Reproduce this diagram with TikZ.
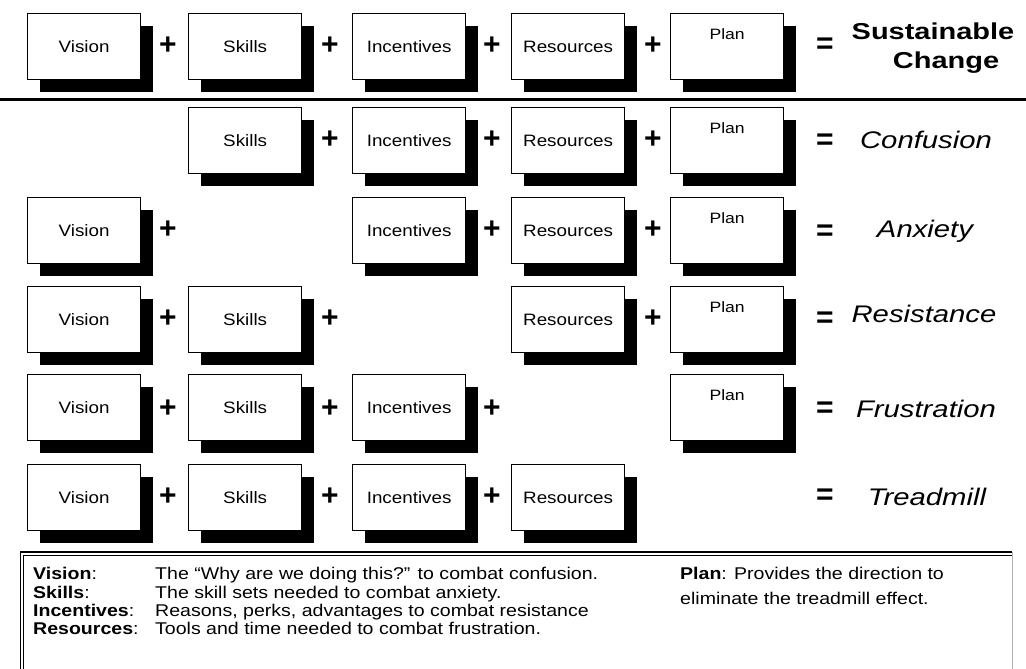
\documentclass[tikz,border=0pt]{standalone}
\usepackage{fontspec}
\usepackage{graphicx}
\setmainfont{Liberation Sans}
\usetikzlibrary{shadows}
\newcommand\hsc[2]{\scalebox{#1}[1]{#2}}
\newcommand\bxl[1]{\hsc{1.14}{#1}}
\newcommand\pln[1]{\hsc{1.17}{#1}}
\newcommand\rsl[1]{\hsc{1.22}{#1}}
\newcommand\lgd[1]{\hsc{1.15}{#1}}
\tikzset{
  box/.style={draw, line width=1.3pt, fill=white, minimum width=113pt, minimum height=66pt,
    anchor=north west, inner sep=0pt, font=\fontsize{16.5}{18}\selectfont,
    drop shadow={shadow xshift=12.5pt, shadow yshift=-12pt, fill=black, opacity=1}},
  planbox/.style={box, font=\fontsize{15}{17}\selectfont, text height=11pt, text depth=26pt},
  op/.style={inner sep=0pt, font=\fontsize{30}{30}\selectfont\bfseries},
  eq/.style={inner sep=0pt, font=\fontsize{30}{30}\selectfont\bfseries},
  result/.style={inner sep=0pt, font=\fontsize{24}{26}\selectfont\itshape},
  sust/.style={inner sep=0pt, font=\fontsize{23}{25}\selectfont\bfseries},
  legend/.style={inner sep=0pt, anchor=base west, font=\fontsize{17}{19}\selectfont},
}
\begin{document}
\begin{tikzpicture}[x=1pt,y=-1pt]
\clip (0,0) rectangle (1026,669);
\fill[white] (0,0) rectangle (1026,669);

% Row 1
\node[box] (v1) at (27,13) {\bxl{Vision}};
\node[box] (s1) at (188,13) {\bxl{Skills}};
\node[box] (i1) at (352,13) {\bxl{Incentives}};
\node[box] (r1) at (511,13) {\bxl{Resources}};
\node[planbox] (pl1) at (670,13) {\pln{Plan}};
\node[op] (a11) at (168,46) {+};
\node[op] (a12) at (330,46) {+};
\node[op] (a13) at (492,46) {+};
\node[op] (a14) at (653,46) {+};
\node[eq] (e1) at (825,46) {=};
\node[sust] (t1a) at (933,31) {\hsc{1.26}{Sustainable}};
\node[sust] (t1b) at (946,63) {\hsc{1.26}{Change}};

% Rule
\coordinate (ruleL) at (0,99.5);
\coordinate (ruleR) at (1026,99.5);
\draw[line width=3.5pt] (ruleL) -- (ruleR);

% Row 2
\node[box] (s2) at (188,107) {\bxl{Skills}};
\node[box] (i2) at (352,107) {\bxl{Incentives}};
\node[box] (r2) at (511,107) {\bxl{Resources}};
\node[planbox] (pl2) at (670,107) {\pln{Plan}};
\node[op] (a22) at (330,140) {+};
\node[op] (a23) at (492,140) {+};
\node[op] (a24) at (653,140) {+};
\node[eq] (e2) at (825,142) {=};
\node[result] (t2) at (926,140) {\rsl{Confusion}};

% Row 3
\node[box] (v3) at (27,197) {\bxl{Vision}};
\node[box] (i3) at (352,197) {\bxl{Incentives}};
\node[box] (r3) at (511,197) {\bxl{Resources}};
\node[planbox] (pl3) at (670,197) {\pln{Plan}};
\node[op] (a31) at (168,230) {+};
\node[op] (a33) at (492,230) {+};
\node[op] (a34) at (653,230) {+};
\node[eq] (e3) at (825,233) {=};
\node[result] (t3) at (925,231) {\rsl{Anxiety}};

% Row 4
\node[box] (v4) at (27,286) {\bxl{Vision}};
\node[box] (s4) at (188,286) {\bxl{Skills}};
\node[box] (r4) at (511,286) {\bxl{Resources}};
\node[planbox] (pl4) at (670,286) {\pln{Plan}};
\node[op] (a41) at (168,319) {+};
\node[op] (a42) at (330,319) {+};
\node[op] (a44) at (653,319) {+};
\node[eq] (e4) at (825,320) {=};
\node[result] (t4) at (924,314) {\rsl{Resistance}};

% Row 5
\node[box] (v5) at (27,374) {\bxl{Vision}};
\node[box] (s5) at (188,374) {\bxl{Skills}};
\node[box] (i5) at (352,374) {\bxl{Incentives}};
\node[planbox] (pl5) at (670,374) {\pln{Plan}};
\node[op] (a51) at (168,409) {+};
\node[op] (a52) at (330,409) {+};
\node[op] (a53) at (492,409) {+};
\node[eq] (e5) at (825,410) {=};
\node[result] (t5) at (926,409) {\rsl{Frustration}};

% Row 6
\node[box] (v6) at (27,464) {\bxl{Vision}};
\node[box] (s6) at (188,464) {\bxl{Skills}};
\node[box] (i6) at (352,464) {\bxl{Incentives}};
\node[box] (r6) at (511,464) {\bxl{Resources}};
\node[op] (a61) at (168,497) {+};
\node[op] (a62) at (330,497) {+};
\node[op] (a63) at (492,497) {+};
\node[eq] (e6) at (825,497) {=};
\node[result] (t6) at (927,497) {\rsl{Treadmill}};

% Legend frame
\coordinate (lgTL) at (20.5,552);
\coordinate (lgTR) at (1012,552);
\coordinate (lgBL) at (20.5,680);
\coordinate (lgBR) at (1012,680);
\draw[line width=1.3pt] (lgBL) -- (lgTL) -- (lgTR);
\draw[line width=0.8pt] (23.5,680) -- (23.5,555) -- (1012,555);
\draw[line width=0.6pt, gray!60] (lgTR) -- (lgBR);

% Legend text
\node[legend] (lv) at (33,579) {\lgd{\textbf{Vision}:}};
\node[legend] (ls) at (33,598) {\lgd{\textbf{Skills}:}};
\node[legend] (li) at (33,616) {\lgd{\textbf{Incentives}:}};
\node[legend] (lr) at (33,634) {\lgd{\textbf{Resources}:}};
\node[legend] (dv) at (155,579) {\lgd{The “Why are we doing this?” to combat confusion.}};
\node[legend] (ds) at (155,598) {\lgd{The skill sets needed to combat anxiety.}};
\node[legend] (di) at (155,616) {\lgd{Reasons, perks, advantages to combat resistance}};
\node[legend] (dr) at (155,634) {\lgd{Tools and time needed to combat frustration.}};
\node[legend] (lp1) at (680,579) {\lgd{\textbf{Plan}: Provides the direction to}};
\node[legend] (lp2) at (680,604) {\lgd{eliminate the treadmill effect.}};
\end{tikzpicture}
\end{document}
